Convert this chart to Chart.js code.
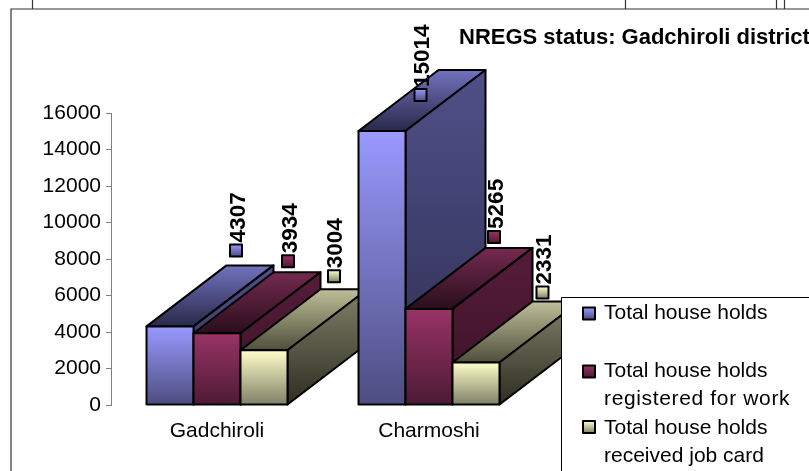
<!DOCTYPE html>
<html><head><meta charset="utf-8">
<style>html,body{margin:0;padding:0;background:#fff;overflow:hidden}canvas{display:block}</style>
<script src="https://cdn.jsdelivr.net/npm/chart.js@4"></script>
</head><body>
<canvas id="c" width="809" height="471"></canvas>
<script>
const categories = ['Gadchiroli', 'Charmoshi'];
const totalHouseholds = [4307, 15014];
const registeredForWork = [3934, 5265];
const receivedJobCard = [3004, 2331];
const seriesLabels = ['Total house holds', 'Total house holds registered for work', 'Total house holds received job card'];
const titleText = 'NREGS status: Gadchiroli district';

const FONT = '"Liberation Sans", Arial, sans-serif';
const DEPTH = {x: 80, y: -61};
const palette = [
  {front: ['#9999ff', '#4d4d80'], top: ['#7272bf', '#29294a'], side: ['#50508a', '#2e2e50']},
  {front: ['#993366', '#4d1a33'], top: ['#742a50', '#2a0e1c'], side: ['#561c3a', '#3a1226']},
  {front: ['#ffffcc', '#808066'], top: ['#bfbf99', '#4f4f3c'], side: ['#80806a', '#2e2e22']}
];
// label marker offset from each bar's top centre: [series][category]
const markerOffsets = [[[67, -76], [39.5, -36]], [[72, -72], [66, -72]], [[71, -74], [67.5, -70]]];
const legendItems = [
  {key: 313.5, lines: [['Total house holds', 319, 0]]},
  {key: 371.5, lines: [['Total house holds', 377, 0], ['registered for work', 405, 0.65]]},
  {key: 427, lines: [['Total house holds', 434, 0], ['received job card', 462, 0]]}
];

function grad(ctx, y0, y1, cols) {
  const g = ctx.createLinearGradient(0, y0, 0, y1);
  g.addColorStop(0, cols[0]); g.addColorStop(1, cols[1]);
  return g;
}
function poly(ctx, pts, fill) {
  ctx.beginPath();
  pts.forEach((p, i) => i ? ctx.lineTo(p[0], p[1]) : ctx.moveTo(p[0], p[1]));
  ctx.closePath();
  ctx.fillStyle = fill; ctx.fill();
  ctx.lineWidth = 2; ctx.strokeStyle = '#000'; ctx.lineJoin = 'round'; ctx.stroke();
}

const prismPlugin = {
  id: 'prism',
  beforeDraw(chart) {
    const ctx = chart.ctx;
    ctx.save();
    ctx.fillStyle = '#fff'; ctx.fillRect(0, 0, 809, 471);
    ctx.strokeStyle = '#333'; ctx.lineWidth = 1.2;
    ctx.beginPath();
    ctx.moveTo(11, 471); ctx.lineTo(11, 9); ctx.lineTo(809, 9);
    [32, 625, 776, 784].forEach(x => { ctx.moveTo(x + .5, 0); ctx.lineTo(x + .5, 9); });
    ctx.stroke();
    ctx.restore();
  },
  afterDatasetsDraw(chart) {
    const ctx = chart.ctx;
    ctx.save();
    categories.forEach((_, c) => {
      chart.data.datasets.forEach((ds, s) => {
        const b = chart.getDatasetMeta(s).data[c];
        const L = b.x - b.width / 2, R = b.x + b.width / 2, T = b.y, B = b.base;
        const P = palette[s], dx = DEPTH.x, dy = DEPTH.y;
        poly(ctx, [[L, T], [R, T], [R + dx, T + dy], [L + dx, T + dy]], grad(ctx, T + dy, T, P.top));
        poly(ctx, [[R, T], [R + dx, T + dy], [R + dx, B + dy], [R, B]], grad(ctx, T + dy, B, P.side));
        poly(ctx, [[L, T], [R, T], [R, B], [L, B]], grad(ctx, T, B, P.front));
      });
    });
    // data labels with legend keys
    chart.data.datasets.forEach((ds, s) => {
      categories.forEach((_, c) => {
        const b = chart.getDatasetMeta(s).data[c];
        const o = markerOffsets[s][c];
        const mx = b.x + o[0] - 1, my = b.y + o[1];
        ctx.save();
        ctx.translate(mx + 8.5, my - 8);
        ctx.rotate(-Math.PI / 2);
        ctx.font = 'bold 22.5px ' + FONT;
        ctx.fillStyle = '#000'; ctx.textAlign = 'left'; ctx.textBaseline = 'alphabetic';
        ctx.fillText(String(ds.data[c]), 0, 0);
        ctx.restore();
        poly(ctx, [[mx - 6, my - 6], [mx + 6, my - 6], [mx + 6, my + 6], [mx - 6, my + 6]], grad(ctx, my - 6, my + 6, palette[s].front));
      });
    });
    // title
    ctx.font = 'bold 22px ' + FONT;
    ctx.fillStyle = '#000'; ctx.textAlign = 'left'; ctx.textBaseline = 'alphabetic';
    ctx.fillText(titleText, 459, 44);
    // legend
    ctx.fillStyle = '#fff'; ctx.fillRect(561, 298, 248, 173);
    ctx.strokeStyle = '#000'; ctx.lineWidth = 1;
    ctx.beginPath(); ctx.moveTo(561.5, 471); ctx.lineTo(561.5, 297.5); ctx.lineTo(809, 297.5); ctx.stroke();
    legendItems.forEach((it, s) => {
      const k = it.key;
      poly(ctx, [[583, k - 6], [595, k - 6], [595, k + 6], [583, k + 6]], grad(ctx, k - 6, k + 6, palette[s].front));
      ctx.font = '21px ' + FONT; ctx.fillStyle = '#000';
      it.lines.forEach(l => { ctx.letterSpacing = l[2] + 'px'; ctx.fillText(l[0], 604, l[1]); });
      ctx.letterSpacing = '0px';
    });
    ctx.restore();
  }
};

new Chart(document.getElementById('c'), {
  type: 'bar',
  data: {
    labels: categories,
    datasets: [
      {label: seriesLabels[0], data: totalHouseholds, backgroundColor: '#9999ff'},
      {label: seriesLabels[1], data: registeredForWork, backgroundColor: '#993366'},
      {label: seriesLabels[2], data: receivedJobCard, backgroundColor: '#ffffcc'}
    ]
  },
  plugins: [prismPlugin],
  options: {
    responsive: false,
    animation: false,
    layout: {padding: {top: 113, right: 274, left: 0, bottom: 0}},
    plugins: {legend: {display: false}, title: {display: false}, tooltip: {enabled: false}},
    datasets: {bar: {categoryPercentage: 0.665, barPercentage: 1}},
    scales: {
      x: {
        afterFit(s) { s.height = 66; },
        grid: {display: false},
        border: {display: false},
        ticks: {color: '#000', font: {family: FONT, size: 21}, padding: 6, maxRotation: 0}
      },
      y: {
        min: 0, max: 16000,
        afterFit(s) { s.width = 111; },
        grid: {drawOnChartArea: false, tickLength: 5, tickColor: '#808080'},
        border: {color: '#808080'},
        ticks: {stepSize: 2000, color: '#000', font: {family: FONT, size: 21}, padding: 5, callback: v => String(v)}
      }
    }
  }
});
</script>
</body></html>
